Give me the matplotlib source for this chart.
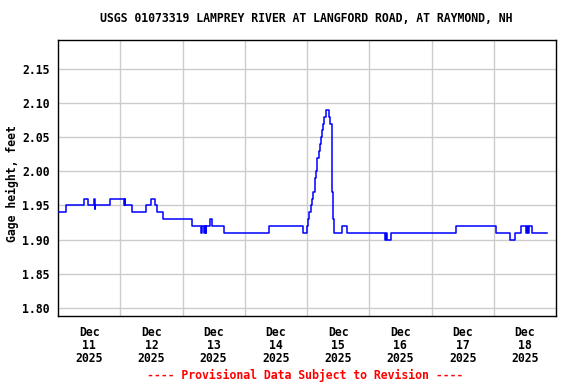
import numpy as np
import matplotlib
matplotlib.use("Agg")
import matplotlib.pyplot as plt

# Gage height, steps (hours after Dec 11 00:00, feet)
hours = [0.0, 2.9, 10.2, 11.7, 13.9, 14.1, 14.3, 19.9, 25.6, 25.8, 26.0,
         28.6, 33.9, 35.9, 37.4, 38.0, 40.6, 51.5, 55.3, 55.7, 56.1, 56.5,
         56.9, 57.1, 58.6, 59.5, 64.1, 81.5, 94.3, 95.9, 96.4, 96.9, 97.4,
         97.9, 98.4, 99.0, 99.5, 100.0, 100.5, 101.0, 101.3, 101.8, 102.3,
         102.5, 103.3, 104.6, 105.0, 105.6, 105.8, 106.2, 106.6, 109.5,
         111.5, 126.1, 126.4, 126.7, 128.4, 153.3, 168.7, 174.2, 176.2,
         178.5, 180.4, 180.8, 181.2, 181.5, 182.6, 188.4]
gage = [1.94, 1.95, 1.96, 1.95, 1.96, 1.945, 1.95, 1.96, 1.95, 1.96, 1.95,
        1.94, 1.95, 1.96, 1.95, 1.94, 1.93, 1.92, 1.91, 1.92, 1.91, 1.92,
        1.91, 1.92, 1.93, 1.92, 1.91, 1.92, 1.91, 1.92, 1.93, 1.94, 1.95,
        1.96, 1.97, 1.99, 2.00, 2.02, 2.03, 2.04, 2.05, 2.06, 2.07,
        2.08, 2.09, 2.08, 2.07, 2.04, 1.97, 1.93, 1.91, 1.92,
        1.91, 1.90, 1.91, 1.90, 1.91, 1.92, 1.91, 1.90, 1.91,
        1.92, 1.91, 1.92, 1.91, 1.92, 1.91, 1.91]

day_labels = ["Dec\n11\n2025", "Dec\n12\n2025", "Dec\n13\n2025", "Dec\n14\n2025",
              "Dec\n15\n2025", "Dec\n16\n2025", "Dec\n17\n2025", "Dec\n18\n2025"]
y_ticks = [1.80, 1.85, 1.90, 1.95, 2.00, 2.05, 2.10, 2.15]

plt.rcParams['font.family'] = ['DejaVu Sans Mono']
plt.rcParams['font.weight'] = 'bold'
fs = 8.3

fig = plt.figure(figsize=(5.76, 3.84), dpi=100)
ax = fig.add_axes([58 / 576, 1 - 316 / 384, 498 / 576, 276 / 384])

days = np.array(hours) / 24.0
ax.plot(days, gage, color="#0000ff", linewidth=1.1, drawstyle="steps-post", zorder=3)

ax.set_xlim(0, 8)
ax.set_ylim(1.788, 2.1925)
ax.set_xticks(np.arange(1, 8), minor=False)
ax.set_xticklabels([])
ax.set_xticks(np.arange(8) + 0.5, minor=True)
ax.set_xticklabels(day_labels, minor=True, fontsize=fs, fontweight="bold", linespacing=1.0)
ax.set_yticks(y_ticks)
ax.set_yticklabels(["%.2f" % v for v in y_ticks], fontsize=fs, fontweight="bold")
ax.tick_params(which="both", length=0)
ax.tick_params(axis="x", which="minor", pad=7)
ax.tick_params(axis="y", pad=6)
ax.grid(True, which="major", color="#cccccc", linewidth=1.0, zorder=0)
for s in ax.spines.values():
    s.set_linewidth(1.0)
    s.set_color("black")

fig.text(12 / 576, 1 - 184 / 384, "Gage height, feet", rotation=90,
         ha="center", va="center", fontsize=fs, fontweight="bold")
fig.text(306 / 576, 1 - 19 / 384, "USGS 01073319 LAMPREY RIVER AT LANGFORD ROAD, AT RAYMOND, NH",
         ha="center", va="center", fontsize=fs, fontweight="bold")
fig.text(305 / 576, 1 - 375 / 384, "---- Provisional Data Subject to Revision ----",
         ha="center", va="center", fontsize=fs, fontweight="bold", color="red")

fig.savefig("out.png", dpi=100)
